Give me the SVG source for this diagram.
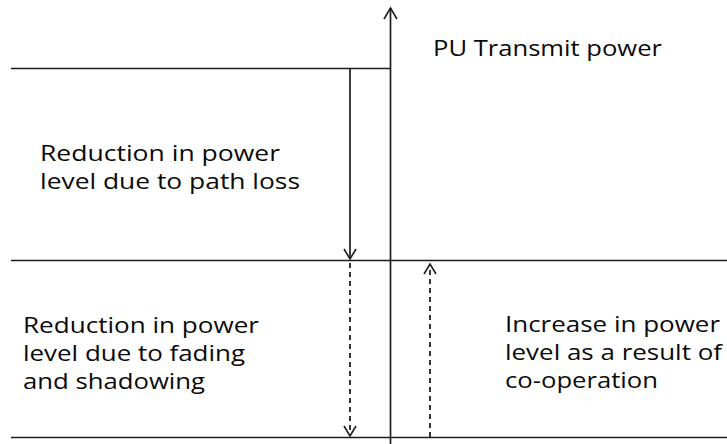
<svg xmlns="http://www.w3.org/2000/svg" width="727" height="444" viewBox="0 0 727 444">
<style>
.ln{stroke:#1e1e1e;stroke-width:1.7;fill:none}
.ds{stroke:#1e1e1e;stroke-width:1.8;fill:none;stroke-dasharray:5,4}
.hd{stroke:#1e1e1e;stroke-width:1.6;fill:none}
text{font-family:"Open Sans","Liberation Sans",sans-serif;font-size:21px;fill:#0a0a0a}
</style>
<rect width="727" height="444" fill="#fff"/>
<g id="connectors">
<line class="ln" x1="390.5" y1="444" x2="390.5" y2="8"/>
<polyline class="hd" points="384,19 390.5,8 397,19"/>
<line class="ln" x1="11" y1="68.5" x2="390.5" y2="68.5"/>
<line class="ln" x1="11" y1="260.5" x2="727" y2="260.5"/>
<line class="ln" x1="11" y1="437.5" x2="727" y2="437.5"/>
<line class="ln" x1="350" y1="68.5" x2="350" y2="259"/>
<polyline class="hd" points="344,249 350,259 356,249"/>
<line class="ds" x1="350" y1="263" x2="350" y2="436"/>
<polyline class="hd" points="344,426 350,436 356,426"/>
<line class="ds" x1="430" y1="437" x2="430" y2="264"/>
<polyline class="hd" points="424,274 430,264 436,274"/>
</g>
<g id="pu-label"><text x="433" y="56" textLength="229" lengthAdjust="spacingAndGlyphs">PU Transmit power</text></g>
<g id="path-loss-label">
<text x="40" y="161" textLength="240" lengthAdjust="spacingAndGlyphs">Reduction in power</text>
<text x="40" y="189" textLength="260" lengthAdjust="spacingAndGlyphs">level due to path loss</text>
</g>
<g id="fading-label">
<text x="23" y="333" textLength="236" lengthAdjust="spacingAndGlyphs">Reduction in power</text>
<text x="23" y="361" textLength="222" lengthAdjust="spacingAndGlyphs">level due to fading</text>
<text x="23" y="389" textLength="182" lengthAdjust="spacingAndGlyphs">and shadowing</text>
</g>
<g id="cooperation-label">
<text x="505" y="332" textLength="215" lengthAdjust="spacingAndGlyphs">Increase in power</text>
<text x="505" y="360" textLength="217" lengthAdjust="spacingAndGlyphs">level as a result of</text>
<text x="505" y="388" textLength="153" lengthAdjust="spacingAndGlyphs">co-operation</text>
</g>
</svg>
